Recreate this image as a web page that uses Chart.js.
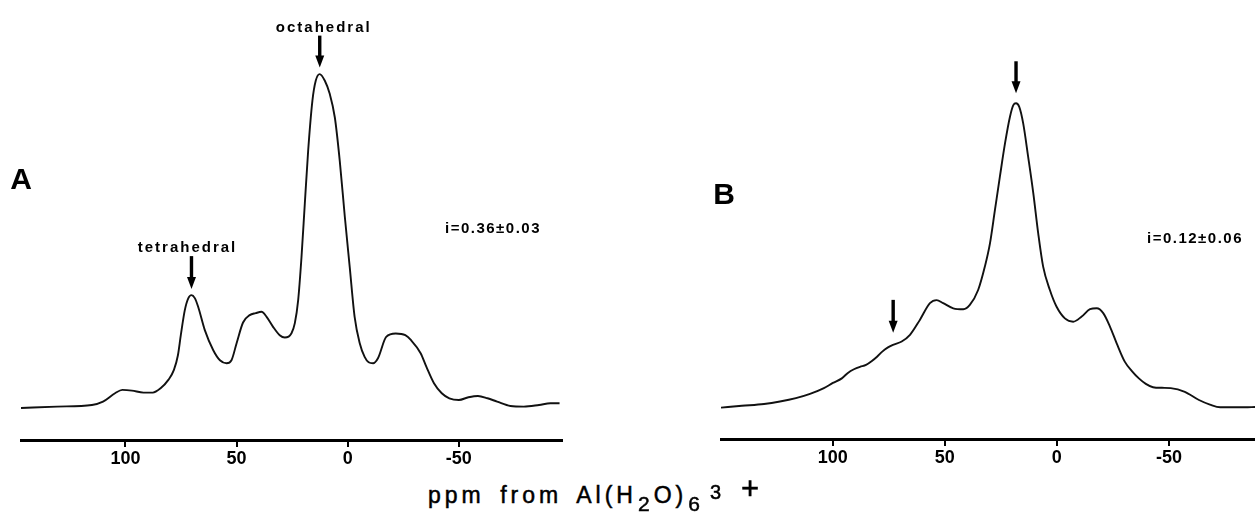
<!DOCTYPE html>
<html>
<head>
<meta charset="utf-8">
<title>27Al NMR spectra</title>
<script src="https://cdn.jsdelivr.net/npm/chart.js@4.4.1/dist/chart.umd.min.js"></script>
<style>
  html, body { margin: 0; padding: 0; background: #fff; }
  body { width: 1255px; height: 532px; position: relative; overflow: hidden; }
  #wrapA { position: absolute; left: 0; top: 0; width: 600px; height: 480px; }
  #wrapB { position: absolute; left: 600px; top: 0; width: 655px; height: 480px; }
  #xtitle {
    position: absolute; left: 428px; top: 482px;
    font: 23px 'Liberation Sans', Arial, sans-serif; line-height: 22px;
    letter-spacing: 4px; word-spacing: 5px; color: #000; white-space: nowrap;
    -webkit-text-stroke: 0.5px #000;
  }
  #xtitle .lo { position: relative; top: 8px; font-size: 21px; margin-left: 1px; }
  #xtitle .hi { position: relative; top: -4px; font-size: 20px; margin-left: 6px; }
  #xtitle .plus { position: relative; top: -4px; font-size: 31px; margin-left: 16px; }
</style>
</head>
<body>
<div id="wrapA"><canvas id="chartA" width="600" height="480"></canvas></div>
<div id="wrapB"><canvas id="chartB" width="655" height="480"></canvas></div>
<div id="xtitle">ppm from Al(H<span class="lo">2</span>O)<span class="lo">6</span><span class="hi">3</span><span class="plus">+</span></div>

<script>
// ---- data (ppm, relative intensity, main peak = 100) ----
const ppmA = [147.0, 130.8, 115.1, 110.1, 104.7, 101.4, 97.1, 91.9, 87.7, 84.2, 80.7, 78.2, 76.4, 75.1, 73.3, 71.7, 70.3, 68.8, 67.3, 64.3,
  60.5, 57.5, 54.5, 52.3, 50.0, 47.1, 44.1, 41.4, 38.8, 36.5, 33.6, 30.6, 28.3, 25.3, 23.8, 22.3, 20.8, 19.3, 17.8, 15.9,
  14.4, 12.6, 10.3, 8.1, 5.8, 3.6, 1.3, -0.9, -3.1, -5.4, -7.6, -9.4, -11.4, -13.6, -17.3, -21.6, -25.9, -28.5, -32.8, -35.4,
  -38.8, -42.3, -45.7, -50.0, -54.3, -58.6, -62.9, -67.2, -73.2, -79.2, -86.1, -91.2, -95.3];
const intA = [0, 0.4, 0.9, 1.9, 4.4, 5.4, 5.2, 4.6, 4.6, 5.9, 8.4, 11.4, 15.8, 21.8, 29.3, 32.9, 33.8, 32.9, 30.3, 23.3,
  17.3, 14.3, 13.4, 14.3, 19.4, 25.6, 27.8, 28.4, 28.8, 27.3, 24.3, 21.8, 21.1, 22.4, 25.4, 32.3, 45.2, 61.3, 77.1, 92.0,
  98.0, 100, 98.0, 94.1, 87.0, 74.1, 57.2, 42.2, 27.3, 19.4, 15.3, 13.7, 13.4, 14.9, 21.3, 22.3, 21.8, 20.3, 16.4, 12.3,
  7.4, 4.4, 2.9, 2.4, 3.2, 3.6, 2.9, 1.9, 0.6, 0.4, 0.9, 1.4, 1.4];

const ppmB = [149.8, 140.5, 130.6, 123.5, 116.4, 110.1, 103.9, 99.9, 95.9, 93.2, 90.5, 87.8, 85.1, 82.5, 80.2, 78.0, 75.5, 73.1, 69.2, 65.5,
  61.1, 56.6, 53.6, 50.7, 46.2, 41.7, 38.8, 35.1, 32.1, 29.8, 27.6, 25.4, 23.1, 20.9, 19.4, 18.2, 16.8, 15.0, 12.8, 10.5,
  8.3, 6.1, 3.1, 0.1, -3.6, -7.3, -11.1, -14.8, -17.8, -20.7, -23.7, -26.7, -30.3, -33.5, -36.6, -39.7, -42.9, -46.9, -50.8, -57.1,
  -63.4, -68.3, -72.9, -83.9, -88.4];
const intB = [0.1, 0.7, 1.3, 2.1, 3.2, 4.6, 6.5, 8.2, 9.7, 11.5, 12.7, 13.5, 14.1, 15.4, 16.8, 18.4, 19.8, 20.7, 21.8, 24.0,
  28.9, 34.4, 35.4, 34.4, 32.7, 32.4, 33.8, 38.7, 46.4, 54.1, 65.0, 75.9, 86.9, 95.6, 99.4, 100, 98.9, 93.4, 82.5, 70.5,
  57.3, 46.4, 38.7, 33.2, 29.4, 28.3, 30.0, 32.4, 32.7, 31.1, 26.7, 21.2, 15.2, 12.1, 9.7, 7.9, 6.8, 6.6, 6.5, 5.3,
  2.6, 1.1, 0.2, 0.2, 0.3];

const tickPpm = [100, 50, 0, -50];
const noteA = 'i=0.36\u00B10.03';
const noteB = 'i=0.12\u00B10.06';

const FONT = "'Liberation Sans', Arial, Helvetica, sans-serif";
Chart.defaults.font.family = FONT;
Chart.defaults.color = '#000';

// filled down-pointing arrow, tip at (x, tip)
function drawArrow(ctx, x, tip, len) {
  const headH = 12, headW = 4.5, shaft = 1.7;
  ctx.fillRect(x - shaft, tip - len, shaft * 2, len - headH + 1);
  ctx.beginPath();
  ctx.moveTo(x - headW, tip - headH);
  ctx.lineTo(x + headW, tip - headH);
  ctx.lineTo(x, tip);
  ctx.closePath();
  ctx.fill();
}

// tick marks, labels, arrows and notes of one panel
const annotate = {
  id: 'annotate',
  afterDraw(chart, args, opts) {
    const { ctx, chartArea, scales: { x, y } } = chart;
    ctx.save();
    ctx.fillStyle = '#000';

    // small tick marks hanging under the axis line
    tickPpm.forEach(v => {
      const px = Math.round(x.getPixelForValue(v));
      ctx.fillRect(px - 1, chartArea.bottom, 2, 7);
    });

    ctx.textAlign = 'center';
    ctx.textBaseline = 'alphabetic';
    (opts.arrows || []).forEach(a => {
      const px = x.getPixelForValue(a.ppm);
      const tip = y.getPixelForValue(a.at) - a.gap;
      drawArrow(ctx, px, tip, a.len);
      if (a.text) {
        ctx.font = 'bold 15px ' + FONT;
        ctx.letterSpacing = '2px';
        ctx.fillText(a.text, px + (a.dx || 0), tip - a.len - 4);
        ctx.letterSpacing = '0px';
      }
    });

    if (opts.panel) {
      ctx.font = 'bold 30px ' + FONT;
      ctx.textBaseline = 'middle';
      ctx.fillText(opts.panel.text, opts.panel.x, opts.panel.y);
    }
    if (opts.note) {
      ctx.font = 'bold 15px ' + FONT;
      ctx.letterSpacing = '1.5px';
      ctx.textBaseline = 'middle';
      ctx.fillText(opts.note.text, opts.note.x, opts.note.y);
    }
    ctx.restore();
  }
};

function makeSpectrum(canvasId, ppm, intensity, cfg) {
  const points = ppm.map((p, i) => ({ x: p, y: intensity[i] }));
  return new Chart(document.getElementById(canvasId), {
    type: 'line',
    data: {
      datasets: [{
        data: points,
        borderColor: '#111',
        borderWidth: 1.9,
        pointRadius: 0,
        cubicInterpolationMode: 'monotone',
        fill: false
      }]
    },
    options: {
      responsive: false,
      animation: false,
      events: [],
      layout: { padding: cfg.padding },
      plugins: {
        legend: { display: false },
        tooltip: { enabled: false },
        annotate: cfg.annotate
      },
      scales: {
        x: {
          type: 'linear',
          reverse: true,
          min: cfg.xMin,
          max: cfg.xMax,
          afterBuildTicks: s => { s.ticks = tickPpm.map(v => ({ value: v })); },
          afterFit: s => { s.height = cfg.axisH; },
          border: { display: true, color: '#000', width: 3 },
          grid: { display: false },
          ticks: {
            padding: 0,
            maxRotation: 0,
            autoSkip: false,
            color: '#000',
            font: { size: 18, weight: 'bold' },
            callback: v => String(v)
          }
        },
        y: { display: false, min: cfg.yMin, max: cfg.yMax }
      }
    },
    plugins: [annotate]
  });
}

makeSpectrum('chartA', ppmA, intA, {
  padding: { left: 21, right: 38, top: 0, bottom: 0 },
  xMin: -96.4, xMax: 147.0, axisH: 40,
  yMin: -9.6, yMax: 122.2,
  annotate: {
    arrows: [
      { ppm: 70.3, at: 33.8, gap: 6, len: 33, text: 'tetrahedral', dx: -4 },
      { ppm: 12.6, at: 100, gap: 6.5, len: 32, text: 'octahedral', dx: 4 }
    ],
    panel: { text: 'A', x: 21, y: 181 },
    note: { text: noteA, x: 493, y: 229 }
  }
});

makeSpectrum('chartB', ppmB, intB, {
  padding: { left: 121, right: 0, top: 0, bottom: 0 },
  xMin: -88.4, xMax: 149.8, axisH: 41,
  yMin: -10.2, yMax: 133.9,
  annotate: {
    arrows: [
      { ppm: 18.2, at: 100, gap: 10, len: 32 },
      { ppm: 73.0, at: 20.7, gap: 12, len: 33 }
    ],
    panel: { text: 'B', x: 124, y: 196 },
    note: { text: noteB, x: 595, y: 239 }
  }
});
</script>
</body>
</html>
